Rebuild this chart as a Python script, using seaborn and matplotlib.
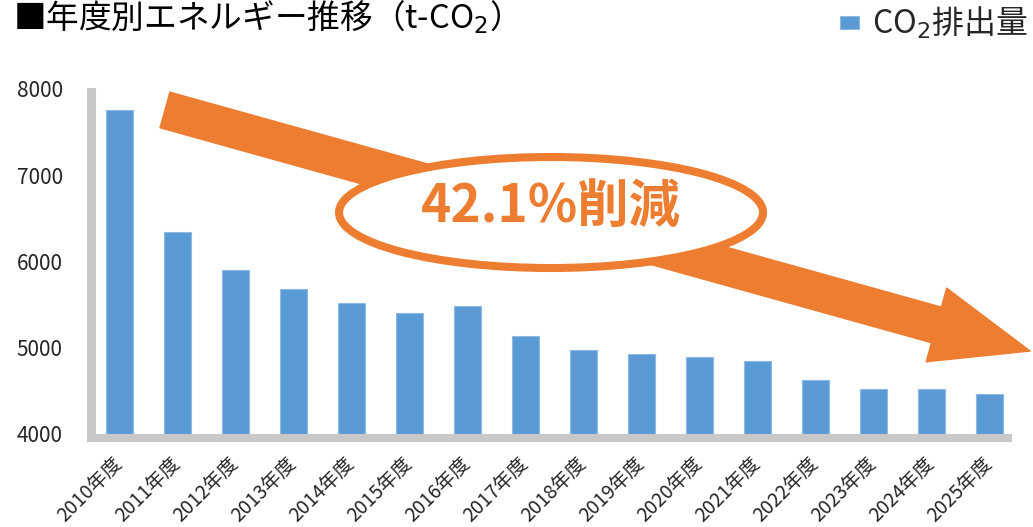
import matplotlib
matplotlib.use("Agg")
import matplotlib.pyplot as plt
import seaborn as sns
from matplotlib.patches import Ellipse

# data (t-CO2)
years = ["2010年度", "2011年度", "2012年度", "2013年度", "2014年度", "2015年度",
         "2016年度", "2017年度", "2018年度", "2019年度", "2020年度", "2021年度",
         "2022年度", "2023年度", "2024年度", "2025年度"]
co2 = [7757, 6338, 5901, 5681, 5515, 5407, 5484, 5140,
       4970, 4931, 4889, 4842, 4626, 4525, 4525, 4464]
y_ticks = [4000, 5000, 6000, 7000, 8000]

title = "■年度別エネルギー推移（t-CO$_2$）"
series_label = "CO$_2$排出量"
callout = "42.1%削減"

blue = "#5B9BD5"
orange = "#ED7D31"
gray = "#C8C8C8"

sns.set_theme(style="white")
plt.rcParams["font.family"] = ["Noto Sans CJK JP", "DejaVu Sans"]

fig = plt.figure(figsize=(10.33, 5.27), dpi=100)
ax = fig.add_axes([90.5 / 1033, 1 - 434 / 527, 928 / 1033, 345 / 527])

sns.barplot(x=years, y=co2, color=blue, saturation=1, width=0.47,
            edgecolor="#8DB8E3", linewidth=0.8, label=series_label, ax=ax)
if ax.get_legend() is not None:
    ax.get_legend().remove()

ax.set_ylim(4000, 8000)
ax.set_xlim(-0.5, 15.5)
ax.set_yticks(y_ticks)
ax.set_xlabel("")
ax.set_ylabel("")

for side in ["top", "right"]:
    ax.spines[side].set_visible(False)
ax.spines["left"].set_color(gray)
ax.spines["left"].set_linewidth(6.5)
ax.spines["left"].set_bounds(4000, 7960)
ax.spines["bottom"].set_color(gray)
ax.spines["bottom"].set_linewidth(5.8)
ax.spines["bottom"].set_position(("outward", 3))
ax.spines["bottom"].set_bounds(-0.5, 15.32)

ax.tick_params(axis="y", length=0, pad=20, labelsize=15, labelcolor="#262626")
ax.tick_params(axis="x", length=0, pad=16, labelsize=14, labelcolor="#262626")
for lab in ax.get_xticklabels():
    lab.set_rotation(45)
    lab.set_ha("right")
    lab.set_va("center")
    lab.set_rotation_mode("anchor")

# big reduction arrow
ax.annotate("", xy=(15.70, 4962), xytext=(0.784, 7757),
            arrowprops=dict(arrowstyle="simple,head_length=70,head_width=55,tail_width=26.6",
                            mutation_scale=1, color=orange, shrinkA=0, shrinkB=0),
            annotation_clip=False, zorder=3)

ell = Ellipse((7.44, 6568), width=7.31, height=1287, facecolor="white",
              edgecolor=orange, linewidth=5.8, zorder=4, clip_on=False)
ax.add_patch(ell)
ax.text(7.44, 6640, callout, ha="center", va="center", fontsize=37,
        fontweight="bold", color=orange, zorder=5)

fig.text(13 / 1033, 1 - 28 / 527, title, ha="left", va="baseline",
         fontsize=23.5, color="black")

handles, labels = ax.get_legend_handles_labels()
fig.legend(handles, labels, loc="upper right", bbox_to_anchor=(1.0, 1.0),
           frameon=False, fontsize=23, handlelength=0.6, handleheight=0.25,
           handletextpad=0.4, borderaxespad=0, borderpad=0.15)

fig.savefig("out.png", dpi=100)
